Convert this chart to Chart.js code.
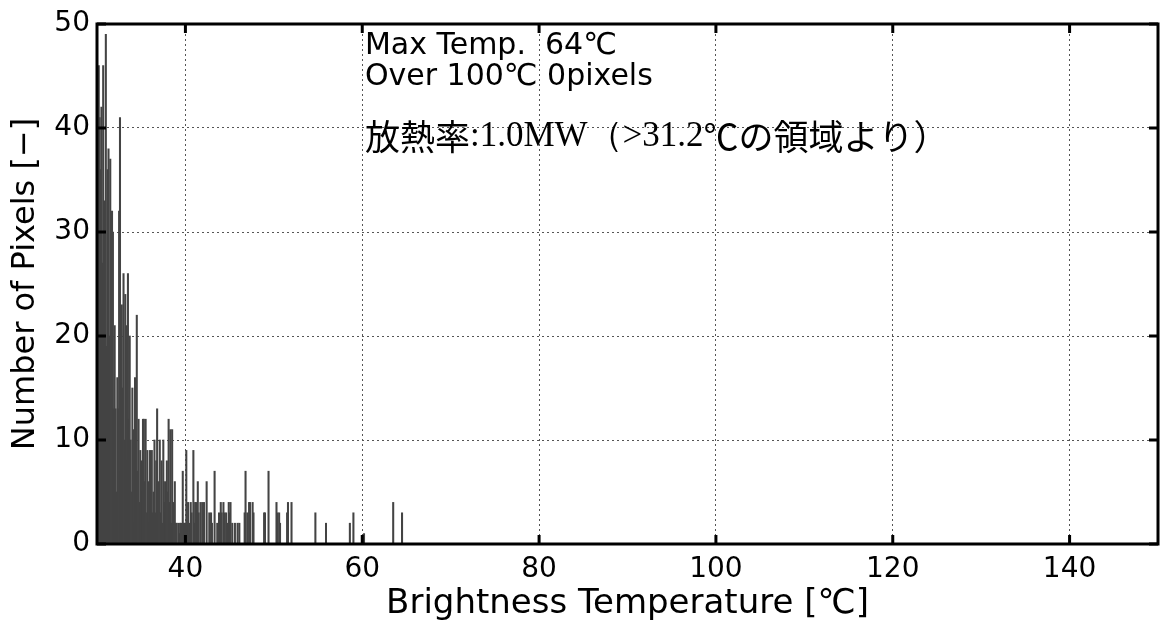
<!DOCTYPE html>
<html lang="ja">
<head>
<meta charset="UTF-8">
<title>Brightness Temperature Histogram</title>
<script src="https://cdn.jsdelivr.net/npm/chart.js"></script>
<style>
  html, body { margin: 0; padding: 0; background: #fff; }
  #wrap { width: 1160px; height: 626px; }
</style>
</head>
<body>
<div id="wrap"><canvas id="grafico" width="1160" height="626"></canvas></div>
<script>
// bin centres (℃) and pixel counts
const binTemps = [
  30.0, 30.1, 30.2, 30.3, 30.4, 30.5, 30.6, 30.7, 30.8, 30.9,
  31.0, 31.1, 31.2, 31.3, 31.4, 31.5, 31.6, 31.7, 31.8, 31.9,
  32.0, 32.1, 32.2, 32.3, 32.4, 32.5, 32.6, 32.7, 32.8, 32.9,
  33.0, 33.1, 33.2, 33.3, 33.4, 33.5, 33.6, 33.7, 33.8, 33.9,
  34.0, 34.1, 34.2, 34.3, 34.4, 34.5, 34.6, 34.7, 34.8, 34.9,
  35.0, 35.1, 35.2, 35.3, 35.4, 35.5, 35.6, 35.7, 35.8, 35.9,
  36.0, 36.1, 36.2, 36.3, 36.4, 36.5, 36.6, 36.7, 36.8, 36.9,
  37.0, 37.1, 37.2, 37.3, 37.4, 37.5, 37.6, 37.7, 37.8, 37.9,
  38.0, 38.1, 38.2, 38.3, 38.4, 38.5, 38.6, 38.7, 38.8, 38.9,
  39.0, 39.2, 39.3, 39.4, 39.5, 39.7, 39.8, 39.9,
  40.0, 40.1, 40.2, 40.3, 40.4, 40.6, 40.7, 40.9,
  41.0, 41.1, 41.2, 41.4, 41.5, 41.7, 41.9,
  42.1, 42.4, 42.7, 42.9, 43.0, 43.3, 43.6, 43.8,
  44.0, 44.1, 44.3, 44.4, 44.6, 44.7, 44.9, 45.0, 45.1, 45.3, 45.6, 45.9,
  46.1, 46.7, 46.8, 47.0, 47.2, 47.3, 47.6, 47.7,
  48.9, 49.0, 49.4, 50.3, 50.4, 50.6, 50.7, 51.5, 51.6, 52.0,
  54.7, 55.9, 58.6, 59.0, 60.2, 63.5, 64.5
];
const pixelCounts = [
  31, 17, 46, 41, 36, 42, 27, 46, 25, 33,
  49, 19, 36, 38, 20, 37, 24, 32, 30, 13,
  21, 13, 5, 16, 13, 32, 41, 7, 23, 15,
  26, 10, 24, 21, 8, 26, 12, 20, 10, 5,
  15, 11, 2, 16, 12, 22, 7, 12, 4, 9,
  8, 5, 12, 12, 6, 12, 3, 9, 6, 2,
  9, 6, 9, 3, 5, 10, 3, 8, 13, 4,
  6, 10, 3, 8, 2, 10, 4, 6, 3, 8,
  5, 12, 4, 11, 2, 11, 4, 2, 6, 2,
  2, 2, 1, 2, 2, 7, 2, 2,
  2, 9, 2, 4, 2, 4, 3, 9,
  2, 4, 4, 6, 3, 4, 4,
  4, 6, 3, 3, 2, 7, 2, 3,
  4, 3, 4, 3, 3, 2, 4, 3, 4, 2, 2, 2,
  2, 3, 7, 3, 4, 4, 4, 3,
  3, 3, 7, 4, 3, 3, 2, 3, 4, 4,
  3, 2, 2, 3, 1, 4, 3
];
const xTicks = [40, 60, 80, 100, 120, 140];
const yTicks = [0, 10, 20, 30, 40, 50];
const notas = ['Max Temp.  64℃', 'Over 100℃ 0pixels'];
const notaCalor = [['放熱率', 'g'], [':1.0MW（>31.2', 's'], ['℃の領域より）', 'g']];

const sans = '"DejaVu Sans", "Noto Sans CJK JP", sans-serif';
const gothic = '"Noto Sans CJK JP", "Noto Sans", sans-serif';
const serif = '"Liberation Serif", "DejaVu Serif", serif';

// frame, inward ticks (matlab style) and the text notes
const marcoPlugin = {
  id: 'marco',
  afterDraw(chart) {
    const { ctx, chartArea: a, scales: { x, y } } = chart;
    ctx.save();
    ctx.strokeStyle = '#000';
    ctx.lineWidth = 3;
    ctx.strokeRect(a.left, a.top, a.right - a.left, a.bottom - a.top);
    ctx.beginPath();
    xTicks.forEach(v => {
      const px = x.getPixelForValue(v);
      ctx.moveTo(px, a.top); ctx.lineTo(px, a.top + 9);
      ctx.moveTo(px, a.bottom); ctx.lineTo(px, a.bottom - 9);
    });
    yTicks.forEach(v => {
      const py = y.getPixelForValue(v);
      ctx.moveTo(a.left, py); ctx.lineTo(a.left + 9, py);
      ctx.moveTo(a.right, py); ctx.lineTo(a.right - 9, py);
    });
    ctx.stroke();

    ctx.fillStyle = '#000';
    ctx.textBaseline = 'middle';
    const tx = x.getPixelForValue(60.3);
    ctx.font = '30px ' + sans;
    ctx.fillText(notas[0], tx, a.top + 22);
    ctx.fillText(notas[1], tx, a.top + 53);
    let cx = tx;
    notaCalor.forEach(([txt, f]) => {
      ctx.font = f === 's' ? '35px ' + serif : '35px ' + gothic;
      ctx.fillText(txt, cx, a.top + 113);
      cx += ctx.measureText(txt).width;
    });
    ctx.restore();
  }
};

const ctx = document.getElementById('grafico').getContext('2d');
new Chart(ctx, {
  type: 'bar',
  data: {
    datasets: [{
      data: binTemps.map((t, i) => ({ x: t, y: pixelCounts[i] })),
      backgroundColor: '#444',
      borderWidth: 0,
      barThickness: 1.4
    }]
  },
  options: {
    responsive: false,
    animation: false,
    layout: { padding: { top: 24, right: 2, left: 0, bottom: 0 } },
    plugins: { legend: { display: false }, tooltip: { enabled: false } },
    scales: {
      x: {
        type: 'linear',
        min: 30,
        max: 150,
        offset: false,
        afterBuildTicks: s => { s.ticks = xTicks.map(v => ({ value: v })); },
        afterFit: s => { s.height = 82; },
        grid: { color: '#555', lineWidth: 1, drawTicks: false, offset: false },
        border: { display: false, dash: [2, 3] },
        ticks: { color: '#000', padding: 9, font: { family: sans, size: 28 } },
        title: {
          display: true,
          text: 'Brightness Temperature [℃]',
          color: '#000',
          padding: { top: 0, bottom: 1 },
          font: { family: sans, size: 34 }
        }
      },
      y: {
        min: 0,
        max: 50,
        afterBuildTicks: s => { s.ticks = yTicks.map(v => ({ value: v })); },
        afterFit: s => { s.width = 97; },
        grid: { color: '#555', lineWidth: 1, drawTicks: false },
        border: { display: false, dash: [2, 3] },
        ticks: { color: '#000', padding: 7, font: { family: sans, size: 28 } },
        title: {
          display: true,
          text: 'Number of Pixels [−]',
          color: '#000',
          padding: { top: 6, bottom: 0 },
          font: { family: sans, size: 32 }
        }
      }
    }
  },
  plugins: [marcoPlugin]
});
</script>
</body>
</html>
